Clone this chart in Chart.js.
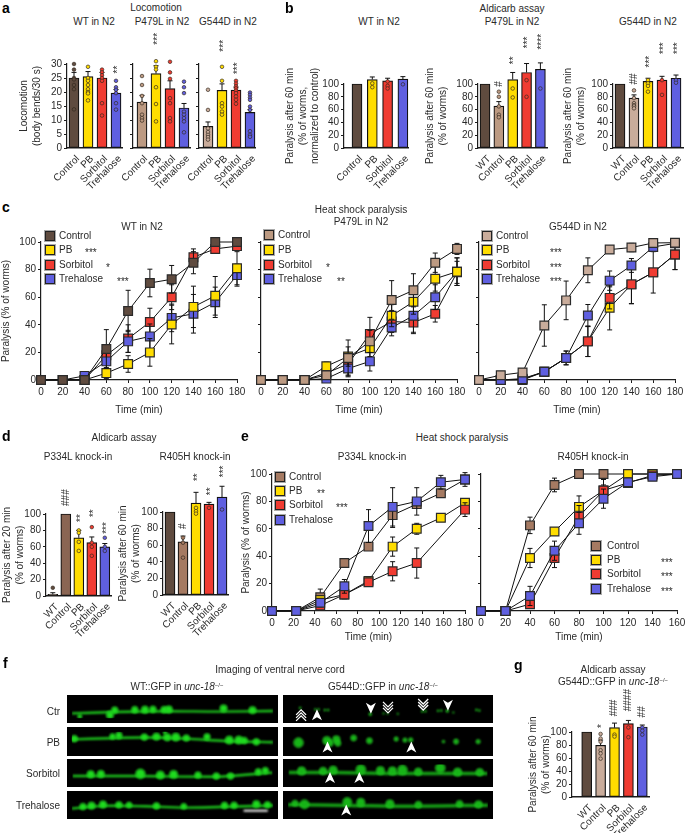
<!DOCTYPE html>
<html>
<head>
<meta charset="utf-8">
<style>
  html, body { margin: 0; padding: 0; background: #fff; }
  #page { position: relative; width: 685px; height: 833px; overflow: hidden; font-family: "Liberation Sans", sans-serif; color: #2a2a2a; }
  #page canvas { position: absolute; }
  .txt { position: absolute; white-space: nowrap; font-size: 10px; line-height: 12px; }
  .txt sup { font-size: 6px; line-height: 0; vertical-align: 3px; }
  .panel { font-weight: bold; font-size: 14px; color: #000; }
  .swatch { position: absolute; width: 8px; height: 8px; border: 1px solid #222; box-shadow: 0 0 0 1px #aaa; }
</style>
</head>
<body>
<div id="page"></div>
<script src="https://cdn.jsdelivr.net/npm/chart.js@4"></script>
<script>
// categories
const cats4 = ['Control', 'PB', 'Sorbitol', 'Trehalose'];
const cats5 = ['WT', 'Control', 'PB', 'Sorbitol', 'Trehalose'];
const legendNames = ['Control', 'PB', 'Sorbitol', 'Trehalose'];

// panel a, locomotion
const a1Means = [25, 25.5, 25, 19.6];
const a1Errs = [2, 1.8, 2, 1.3];
const a1Dots = [[30, 28, 25, 24.5, 22.5, 21, 13.8], [34, 33, 29, 25, 24, 22.5, 21, 20, 19.5, 17], [33, 28, 27, 26, 25, 24, 16, 11.6], [24, 21.7, 20.8, 19.6, 16, 13.7]];
const a1Notes = [[3, 28, '**']];
const a2Means = [16.4, 26.6, 21.2, 14.3];
const a2Errs = [2.4, 2.8, 2.8, 1.6];
const a2Dots = [[25.7, 22.5, 18.6, 16, 11.9, 10.7, 9.8], [37, 34, 32, 31, 29, 28, 21.7, 15.7, 9.5], [30.8, 27, 24.7, 17.8, 16, 10.7, 9.5], [23.7, 21.7, 19.6, 13, 11.9, 10.7, 9.5, 5.6]];
const a2Notes = [[1, 39, '***']];
const a3Means = [7.7, 20.6, 20.7, 12.7];
const a3Errs = [1.6, 2.3, 1, 1];
const a3Dots = [[20.8, 13.6, 7, 5.7, 4.7, 3.9, 3], [32, 29, 24, 16, 14.8, 13, 11.9], [24, 23, 22, 21.3, 20.5, 19.6, 18.4, 17.2, 15.8], [19.8, 19, 18, 17.2, 14.8, 13.6, 6, 4.7, 4]];
const a3Notes = [[1, 36.5, '***'], [2, 28.5, '***']];

// panel b, aldicarb assay
const b1Means = [100, 107, 105, 107.5];
const b1Errs = [0, 4, 4, 4];
const b1Dots = [[], [112, 101, 95], [109, 104, 97, 93], [110, 99.5]];
const b2Means = [100, 65.5, 107, 118, 123];
const b2Errs = [0, 7, 11, 14, 10];
const b2Dots = [[], [88, 80, 65, 52, 48], [118, 113, 93, 79], [143, 140, 129, 106, 80], [150, 132, 111, 93]];
const b2Notes = [[1, 100, '#'], [2, 137, '**'], [3, 165, '***'], [4, 166, '****']];
const b3Means = [100, 78, 104, 106, 109];
const b3Errs = [0, 5, 5, 6, 5];
const b3Dots = [[], [90, 78, 70, 67, 65, 62], [112, 106, 101, 97, 88], [129, 112, 106, 83], [132, 112, 106, 102]];
const b3Notes = [[1, 108, '##'], [2, 135, '***'], [3, 156, '***'], [4, 156, '***']];

// panel c, heat shock paralysis
const cTimes = [0, 20, 40, 60, 80, 100, 120, 140, 160, 180];
const c1Control = [0, 0, 0, 22.5, 50, 70.3, 73, 85, 100, 100];
const c1ControlErr = [0, 0, 0, 14, 15, 10, 10, 8, 0, 0];
const c1PB = [0, 0, 0, 5, 11.6, 20, 40.2, 53, 61, 81];
const c1PBErr = [0, 0, 0, 4, 6, 10, 14, 15, 14, 12];
const c1Sorbitol = [0, 0, 0, 18, 30, 42, 60, 89, 95, 97];
const c1SorbitolErr = [0, 0, 0, 5, 10, 10, 9, 6, 3, 3];
const c1Trehalose = [0, 0, 3, 13.5, 28, 31.6, 45, 48, 56.3, 76];
const c1TrehaloseErr = [0, 0, 0, 6, 8, 9, 10, 14, 11, 8];
const c2Control = [0, 0, 0, 3.5, 16, 28, 58, 65, 85, 95];
const c2ControlErr = [0, 0, 0, 2, 13, 8, 14, 12, 7, 4];
const c2PB = [0, 0, 0, 10, 17, 23, 46.6, 56.7, 73.4, 78.5];
const c2PBErr = [0, 0, 0, 3, 7, 6, 8, 9, 9, 10];
const c2Sorbitol = [0, 0, 0, 5, 11.6, 33.4, 42.4, 41.6, 48, 78];
const c2SorbitolErr = [0, 0, 0, 2, 8, 12, 8, 8, 6, 8];
const c2Trehalose = [0, 0, 0, 1, 8.3, 13.5, 38, 46.6, 60, 78.5];
const c2TrehaloseErr = [0, 0, 0, 1, 6, 7, 6, 12, 9, 10];
const c3Control = [0, 3.5, 5.5, 39.5, 57.7, 79.5, 94.5, 96, 99.3, 99.5];
const c3ControlErr = [0, 0, 0, 15, 14, 9, 2, 3, 2, 1];
const c3PB = [0, 0, 0, 6, 16, 28, 52.3, 69.3, 78, 91];
const c3PBErr = [0, 0, 0, 2, 5, 11, 16, 14, 15, 11];
const c3Sorbitol = [0, 0, 1, 6, 16, 28, 59.5, 69.3, 78, 91];
const c3SorbitolErr = [0, 0, 0, 2, 5, 11, 8, 14, 0, 11];
const c3Trehalose = [0, 0, 0.5, 6, 16, 46.7, 72, 83, 96.4, 99];
const c3TrehaloseErr = [0, 0, 0, 2, 3, 8, 7, 5, 2, 1];

// panel d, aldicarb assay knock-in
const d1Means = [2, 100, 71, 65, 60];
const d1Errs = [2, 0, 9, 7, 4];
const d1Dots = [[10], [], [80, 77, 66, 55], [84, 65, 60, 49], [71, 60, 55]];
const d1Notes = [[1, 120, '###'], [2, 95, '**'], [3, 101, '**'], [4, 83, '***']];
const d2Means = [100, 64, 110.7, 109.6, 118];
const d2Errs = [0, 7, 13, 2, 13];
const d2Dots = [[], [69, 63, 45], [131, 105, 101, 98], [113, 111, 107, 105], [139, 108, 103]];
const d2Notes = [[1, 83, '#'], [2, 142, '**'], [3, 125, '**'], [4, 149, '***']];

// panel e, heat shock paralysis knock-in
const e1Times = [0, 22.5, 45, 67.5, 90, 112.5, 135, 157.5, 180];
const e1Control = [0, 0, 10, 35, 47, 70, 78, 86, 96];
const e1ControlErr = [0, 0, 6, 2, 0, 9, 3, 2, 3];
const e1PB = [0, 0, 8, 12, 22, 47, 60, 68, 79];
const e1PBErr = [0, 0, 3, 3, 3, 7, 4, 2, 2];
const e1Sorbitol = [0, 0, 4, 12, 21, 29, 35, null, 74];
const e1SorbitolErr = [0, 0, 2, 3, 3, 7, 11, 0, 5];
const e1Trehalose = [0, 0, 6, 18, 62, 76, 80, 94, 96];
const e1TrehaloseErr = [0, 0, 3, 5, 12, 14, 10, 5, 5];
const e2Times = [0, 20, 40, 60, 80, 100, 120, 140, 160];
const e2Control = [0, 0, 62.5, 92, 100, 100, 100, 100, 100];
const e2ControlErr = [0, 0, 6, 5, 0, 0, 0, 0, 0];
const e2PB = [0, 0, 38.7, 58, 76, 88, 100, 100, 100];
const e2PBErr = [0, 0, 7, 1, 8, 4, 0, 0, 0];
const e2Sorbitol = [0, 0, 5, 38.7, 69, 88, 93.5, 99, 100];
const e2SorbitolErr = [0, 0, 3, 7, 8, 8, 3, 0, 0];
const e2Trehalose = [0, 0, 11, 44, 64, 82, 94, 98, 100];
const e2TrehaloseErr = [0, 0, 7, 7, 8, 7, 3, 0, 0];

// panel g
const gMeans = [100, 79.5, 106.7, 112.8, 107.7];
const gErrs = [0, 8, 7, 5, 3];
const gDots = [[], [97, 90, 85, 72, 67, 59], [124, 113, 108, 96, 93], [133, 113, 107, 92], [118, 112, 107, 102, 96]];
const gNotes = [[1, 109, '*'], [2, 137, '###'], [3, 149, '####'], [4, 131, '##']];

// panel f, micrographs: strand points and boutons [x, y, r] in image units
const wtStrands = [
  [[200, 348], [330, 342], [500, 338], [660, 340], [833, 337]],
  [[200, 415], [320, 410], [430, 407], [560, 412], [680, 422], [833, 428]],
  [[200, 535], [400, 535], [660, 538], [720, 532], [833, 518]],
  [[200, 632], [300, 620], [430, 622], [560, 628], [833, 618]]
];
const wtBlobs = [
  [[335, 333, 8], [398, 331, 8], [430, 331, 9], [455, 329, 8], [490, 331, 8], [505, 330, 9], [677, 325, 9], [768, 333, 9], [320, 355, 9], [225, 362, 5]],
  [[208, 412, 8], [328, 402, 7], [348, 398, 8], [428, 405, 8], [466, 403, 9], [500, 406, 9], [527, 405, 10], [560, 409, 8], [625, 404, 8], [695, 418, 10], [725, 418, 10], [742, 420, 8], [780, 426, 8], [493, 385, 4]],
  [[258, 526, 9], [290, 525, 9], [415, 524, 12], [478, 530, 10], [520, 527, 10], [597, 530, 8], [655, 535, 8], [700, 535, 8], [788, 514, 8], [810, 508, 8]],
  [[235, 623, 8], [262, 619, 9], [298, 614, 9], [348, 615, 8], [380, 616, 7], [466, 620, 8], [552, 622, 7], [680, 618, 8], [710, 617, 8], [780, 612, 9], [815, 615, 8]]
];
const mutStrands = [
  [],
  [],
  [[8, 517], [150, 518], [330, 522], [500, 522], [640, 522]],
  [[8, 615], [200, 618], [400, 622], [640, 617]]
];
const mutBlobs = [
  [[47, 323, 2], [95, 330, 2], [105, 330, 2], [125, 333, 2], [135, 333, 2], [268, 352, 3], [310, 348, 1.5], [323, 349, 1.5], [355, 350, 1.5], [432, 339, 2], [442, 338, 2], [482, 336, 2], [492, 335, 2], [511, 337, 3], [530, 344, 1.5], [603, 332, 2], [612, 335, 2]],
  [[40, 430, 12], [130, 420, 10], [160, 415, 9], [165, 433, 7], [140, 432, 8], [215, 408, 7], [265, 421, 7], [350, 413, 5], [378, 418, 5], [396, 417, 5], [500, 425, 3], [540, 425, 6], [610, 425, 5]],
  [[50, 510, 10], [118, 510, 9], [150, 506, 10], [238, 503, 12], [300, 508, 10], [338, 510, 10], [370, 505, 12], [420, 514, 9], [490, 495, 12], [545, 516, 10], [615, 516, 9]],
  [[30, 607, 7], [60, 612, 11], [195, 602, 11], [238, 604, 10], [330, 611, 10], [420, 614, 8], [550, 610, 8], [610, 613, 9]]
];
// arrow marks [x, y, 'up'|'down', 1|2 heads]
const mutArrows = [
  [[50, 355, 'up', 2], [100, 357, 'up', 1], [270, 322, 'down', 1], [324, 323, 'down', 2], [435, 310, 'down', 2], [513, 309, 'down', 1]],
  [[132, 452, 'up', 1], [398, 452, 'up', 1]],
  [[140, 544, 'up', 1], [233, 544, 'up', 1]],
  [[192, 642, 'up', 1]]
];
const rowNames = ['Ctr', 'PB', 'Sorbitol', 'Trehalose'];

const BROWN = '#5f4b3f', TAN = '#bc9a82', PALE = '#c9ac9b', MID = '#a57a62';
const YELLOW = '#ffdd00', RED = '#f03c32', BLUE = '#5f5fe0';
const INK = '#1c1c1c';
const page = document.getElementById('page');

Chart.defaults.font.family = '"Liberation Sans", sans-serif';
Chart.defaults.font.size = 10;
Chart.defaults.color = '#2a2a2a';
Chart.defaults.animation = false;

// error bars, drawn next to their own dataset so the layering stays right
function drawErrors(chart, index) {
  const ds = chart.data.datasets[index];
  if (!ds.errors) return;
  const xs = chart.scales.x, ys = chart.scales.y, ctx = chart.ctx;
  ctx.save();
  ctx.strokeStyle = '#111';
  ctx.lineWidth = 1;
  ds.data.forEach((pt, i) => {
    const e = ds.errors[i];
    if (!e || pt.y == null) return;
    const x = xs.getPixelForValue(pt.x);
    const top = ys.getPixelForValue(pt.y + e);
    const bot = ds.upperOnly ? ys.getPixelForValue(pt.y) : ys.getPixelForValue(pt.y - e);
    ctx.beginPath();
    ctx.moveTo(x, top); ctx.lineTo(x, bot);
    ctx.moveTo(x - 2.5, top); ctx.lineTo(x + 2.5, top);
    if (!ds.upperOnly) { ctx.moveTo(x - 2.5, bot); ctx.lineTo(x + 2.5, bot); }
    ctx.stroke();
  });
  ctx.restore();
}

Chart.register({
  id: 'errorBars',
  beforeDatasetDraw(chart, args) {
    if (!chart.data.datasets[args.index].upperOnly) drawErrors(chart, args.index);
  },
  afterDatasetDraw(chart, args) {
    if (chart.data.datasets[args.index].upperOnly) drawErrors(chart, args.index);
  }
});

// the stacked stars and hashes above the bars
Chart.register({
  id: 'sigNotes',
  afterDatasetsDraw(chart) {
    const ds = chart.data.datasets[0];
    if (!ds.notes) return;
    const ctx = chart.ctx;
    ds.notes.forEach(n => {
      ctx.save();
      ctx.translate(chart.scales.x.getPixelForValue(n[0]), chart.scales.y.getPixelForValue(n[1]));
      ctx.rotate(-Math.PI / 2);
      ctx.font = '10px "Liberation Sans"';
      ctx.fillStyle = '#2a2a2a';
      ctx.textAlign = 'center';
      ctx.textBaseline = 'middle';
      ctx.fillText(n[2], 0, n[2][0] === '*' ? 2 : 0);
      ctx.restore();
    });
  }
});

// soft edges for the micrographs, white arrows stay sharp
Chart.register({
  id: 'microscope',
  beforeDatasetsDraw(chart) {
    if (chart.config.options.isImage) { chart.ctx.save(); chart.ctx.filter = 'blur(0.8px)'; }
  },
  afterDatasetsDraw(chart) {
    if (!chart.config.options.isImage) return;
    chart.ctx.restore();
    const ctx = chart.ctx, arrows = chart.config.options.arrows || [];
    arrows.forEach(a => {
      const x = chart.scales.x.getPixelForValue(a[0]);
      const y = chart.scales.y.getPixelForValue(a[1]);
      const d = a[2] === 'up' ? 1 : -1;
      ctx.save();
      ctx.fillStyle = '#fff';
      ctx.strokeStyle = '#fff';
      if (a[3] === 1) {
        ctx.beginPath();
        ctx.moveTo(x, y - 6 * d);
        ctx.lineTo(x + 5, y + 5 * d);
        ctx.lineTo(x, y + 2 * d);
        ctx.lineTo(x - 5, y + 5 * d);
        ctx.closePath();
        ctx.fill();
      } else {
        ctx.lineWidth = 1.3;
        [-3, 0, 3].forEach(o => {
          ctx.beginPath();
          ctx.moveTo(x - 5, y + (o + 3) * d);
          ctx.lineTo(x, y + (o - 2) * d);
          ctx.lineTo(x + 5, y + (o + 3) * d);
          ctx.stroke();
        });
      }
      ctx.restore();
    });
  }
});

function addCanvas(left, top, width, height) {
  const c = document.createElement('canvas');
  c.width = width;
  c.height = height;
  c.style.left = left + 'px';
  c.style.top = top + 'px';
  page.appendChild(c);
  return c;
}

function addText(html, x, y, anchor, cls) {
  const d = document.createElement('div');
  d.className = 'txt' + (cls ? ' ' + cls : '');
  d.innerHTML = html;
  d.style.left = x + 'px';
  d.style.top = y + 'px';
  const tx = anchor === 'c' ? '-50%' : anchor === 'r' ? '-100%' : '0';
  d.style.transform = 'translate(' + tx + ',-50%)';
  page.appendChild(d);
}

function yAxis(o) {
  return {
    type: 'linear', min: 0, max: o.yMax,
    ticks: { stepSize: o.yStep, autoSkip: false, display: o.yLabels !== false, padding: 2, color: '#2a2a2a', font: { size: 10 } },
    grid: { drawOnChartArea: false, drawTicks: true, tickLength: 3, tickColor: INK },
    border: { color: INK, width: 1.2 },
    title: o.yTitle ? { display: true, text: o.yTitle, padding: 0, font: { size: 10, lineHeight: 1.25 }, color: '#2a2a2a' } : { display: false },
    afterFit: s => { s.width = o.leftW; }
  };
}

function barPanel(o) {
  const p = o.plot, padTop = 60, padRight = 12, bottomH = 50;
  const canvas = addCanvas(p.l - o.leftW, p.t - padTop, o.leftW + p.r - p.l + padRight, padTop + p.b - p.t + bottomH);
  const dots = [];
  o.dots.forEach((vals, i) => vals.forEach(v => dots.push({ x: i, y: v })));
  new Chart(canvas, {
    type: 'bar',
    data: {
      datasets: [{
        data: o.means.map((v, i) => ({ x: i, y: v })),
        errors: o.errs, upperOnly: true,
        notes: o.notes,
        backgroundColor: o.colors, borderColor: '#111', borderWidth: 1.2, borderSkipped: false,
        barThickness: o.barW || 10, clip: false, order: 2
      }, {
        type: 'line', data: dots, showLine: false, clip: false, order: 1,
        pointRadius: 1.8, pointBorderWidth: 0.8, pointBorderColor: 'rgba(50,40,30,0.85)',
        pointBackgroundColor: c => o.colors[c.raw ? c.raw.x : 0]
      }]
    },
    options: {
      responsive: false,
      layout: { padding: { top: padTop, right: padRight, left: 0, bottom: 0 } },
      plugins: { legend: { display: false }, tooltip: { enabled: false } },
      scales: {
        x: {
          type: 'linear', offset: false,
          min: (p.l - o.c0) / o.step, max: (p.r - o.c0) / o.step,
          afterBuildTicks: s => { s.ticks = o.cats.map((c, i) => ({ value: i })); },
          ticks: { autoSkip: false, minRotation: 45, maxRotation: 45, padding: 5, labelOffset: 4, color: '#2a2a2a', font: { size: 10 }, callback: v => o.cats[v] },
          grid: { display: true, offset: false, drawOnChartArea: false, drawTicks: false },
          border: { color: INK, width: 1.5 },
          afterFit: s => { s.height = bottomH; }
        },
        y: yAxis(o)
      }
    }
  });
}

function linePanel(o) {
  const p = o.plot, padTop = 12, padRight = 14, bottomH = o.bottomH;
  const canvas = addCanvas(p.l - o.leftW, p.t - padTop, o.leftW + p.r - p.l + padRight, padTop + p.b - p.t + bottomH);
  new Chart(canvas, {
    type: 'line',
    data: {
      datasets: o.series.map(s => ({
        data: o.times.map((t, i) => ({ x: t, y: s.y[i] })),
        errors: s.err,
        spanGaps: true, clip: false, order: s.order,
        borderColor: '#111', borderWidth: 1, tension: 0,
        pointStyle: 'rect', pointRadius: 6.2, pointBorderWidth: 1.2,
        pointBorderColor: '#2a2a2a', pointBackgroundColor: s.color
      }))
    },
    options: {
      responsive: false,
      layout: { padding: { top: padTop, right: padRight, left: 0, bottom: 0 } },
      plugins: { legend: { display: false }, tooltip: { enabled: false } },
      scales: {
        x: {
          type: 'linear', min: 0, max: o.xMax,
          ticks: { stepSize: 20, autoSkip: false, maxRotation: 0, padding: 3, color: '#2a2a2a', font: { size: 10 } },
          grid: { drawOnChartArea: false, drawTicks: true, tickLength: 3, tickColor: INK },
          border: { color: INK, width: 1.2 },
          title: { display: true, text: 'Time (min)', padding: 0, font: { size: 10 }, color: '#2a2a2a' },
          afterFit: s => { s.height = bottomH; }
        },
        y: yAxis(Object.assign({ yMax: 100, yStep: 20 }, o))
      }
    }
  });
}

function legend(x, tx, ys, colors, stars, starX) {
  legendNames.forEach((name, i) => {
    const sw = document.createElement('div');
    sw.className = 'swatch';
    sw.style.left = (x - 5) + 'px';
    sw.style.top = (ys[i] - 5) + 'px';
    sw.style.background = colors[i];
    page.appendChild(sw);
    addText(name, tx, ys[i], 'l');
    if (stars[i]) addText(stars[i], starX[i], ys[i] + 2.5, 'l');
  });
}

function imagePanel(rect, xRange, yRange, strand, blobs, arrows, bright, extra) {
  const canvas = addCanvas(rect.l, rect.t, rect.r - rect.l, rect.b - rect.t);
  canvas.style.background = '#000';
  const datasets = [{
    type: 'bubble',
    data: blobs.map(b => ({ x: b[0], y: b[1], r: b[2] / 2.6 })),
    backgroundColor: bright ? '#1fdc1f' : '#17b417', borderColor: bright ? '#25e025' : '#2be62b', borderWidth: 0.8, clip: true
  }];
  if (strand.length) {
    datasets.push({
      type: 'line', data: strand.map(s => ({ x: s[0], y: s[1] })),
      borderColor: bright ? '#1cc81c' : '#159f15', borderWidth: bright ? 2.4 : 3.5, pointRadius: 0, tension: 0.3
    });
  }
  if (extra) datasets.push(extra);
  new Chart(canvas, {
    data: { datasets },
    options: {
      responsive: false, isImage: true, arrows,
      layout: { padding: 0 },
      plugins: { legend: { display: false }, tooltip: { enabled: false } },
      scales: {
        x: { type: 'linear', display: false, min: xRange[0], max: xRange[1] },
        y: { type: 'linear', display: false, min: yRange[0], max: yRange[1], reverse: true }
      }
    }
  });
}

// --- panel a
const aColors1 = [BROWN, YELLOW, RED, BLUE], aColors2 = [TAN, YELLOW, RED, BLUE], aColors3 = [PALE, YELLOW, RED, BLUE];
addText('a', 2, 8, 'l', 'panel');
addText('Locomotion', 156, 8, 'c');
addText('WT in N2', 94, 22, 'c');
addText('P479L in N2', 162, 22, 'c');
addText('G544D in N2', 228, 22, 'c');
barPanel({ cats: cats4, means: a1Means, errs: a1Errs, dots: a1Dots, notes: a1Notes, colors: aColors1, plot: { l: 67, r: 122, t: 64, b: 148 }, c0: 74, step: 14, yMax: 30, yStep: 5, leftW: 49, yTitle: ['Locomotion', '(body bends/30 s)'] });
barPanel({ cats: cats4, means: a2Means, errs: a2Errs, dots: a2Dots, notes: a2Notes, colors: aColors2, plot: { l: 133, r: 190, t: 64, b: 148 }, c0: 142, step: 14, yMax: 30, yStep: 5, leftW: 30, yLabels: false });
barPanel({ cats: cats4, means: a3Means, errs: a3Errs, dots: a3Dots, notes: a3Notes, colors: aColors3, plot: { l: 199, r: 255, t: 64, b: 148 }, c0: 208, step: 14, yMax: 30, yStep: 5, leftW: 30, yLabels: false });

// --- panel b
addText('b', 285, 8, 'l', 'panel');
addText('Aldicarb assay', 512, 9, 'c');
addText('WT in N2', 379, 22, 'c');
addText('P479L in N2', 512, 22, 'c');
addText('G544D in N2', 648, 22, 'c');
barPanel({ cats: cats4, means: b1Means, errs: b1Errs, dots: b1Dots, colors: aColors1, plot: { l: 344, r: 408, t: 84, b: 148 }, c0: 357, step: 15.3, yMax: 100, yStep: 20, leftW: 60, yTitle: ['Paralysis after 60 min', '(% of worms,', 'normalized to control)'] });
barPanel({ cats: cats5, means: b2Means, errs: b2Errs, dots: b2Dots, notes: b2Notes, colors: [BROWN, TAN, YELLOW, RED, BLUE], plot: { l: 478, r: 547, t: 84, b: 148 }, c0: 485, step: 13.85, yMax: 100, yStep: 20, leftW: 54, yTitle: ['Paralysis after 60 min', '(% of worms)'] });
barPanel({ cats: cats5, means: b3Means, errs: b3Errs, dots: b3Dots, notes: b3Notes, colors: [BROWN, PALE, YELLOW, RED, BLUE], plot: { l: 613, r: 683, t: 84, b: 148 }, c0: 620, step: 14, yMax: 100, yStep: 20, leftW: 51, yTitle: ['Paralysis after 60 min', '(% of worms)'] });

// --- panel c
addText('c', 2, 207, 'l', 'panel');
addText('WT in N2', 142, 227, 'c');
addText('Heat shock paralysis', 361, 210, 'c');
addText('P479L in N2', 361, 222, 'c');
addText('G544D in N2', 578, 227, 'c');
linePanel({
  times: cTimes, xMax: 180, plot: { l: 41, r: 237, t: 242, b: 380 }, leftW: 41, bottomH: 36, yTitle: 'Paralysis (% of worms)',
  series: [
    { y: c1Control, err: c1ControlErr, color: BROWN, order: 1 },
    { y: c1PB, err: c1PBErr, color: YELLOW, order: 2 },
    { y: c1Sorbitol, err: c1SorbitolErr, color: RED, order: 4 },
    { y: c1Trehalose, err: c1TrehaloseErr, color: BLUE, order: 3 }
  ]
});
linePanel({
  times: cTimes, xMax: 180, plot: { l: 261, r: 457, t: 242, b: 380 }, leftW: 14, bottomH: 36, yLabels: false,
  series: [
    { y: c2Control, err: c2ControlErr, color: TAN, order: 1 },
    { y: c2PB, err: c2PBErr, color: YELLOW, order: 2 },
    { y: c2Sorbitol, err: c2SorbitolErr, color: RED, order: 4 },
    { y: c2Trehalose, err: c2TrehaloseErr, color: BLUE, order: 3 }
  ]
});
linePanel({
  times: cTimes, xMax: 180, plot: { l: 479, r: 675, t: 242, b: 380 }, leftW: 14, bottomH: 36, yLabels: false,
  series: [
    { y: c3Control, err: c3ControlErr, color: PALE, order: 1 },
    { y: c3PB, err: c3PBErr, color: YELLOW, order: 4 },
    { y: c3Sorbitol, err: c3SorbitolErr, color: RED, order: 3 },
    { y: c3Trehalose, err: c3TrehaloseErr, color: BLUE, order: 2 }
  ]
});
legend(50, 59, [236, 250, 265, 279], [BROWN, YELLOW, RED, BLUE], ['', '***', '*', '***'], [0, 85, 106, 117]);
legend(269, 278, [235, 250, 265, 279], [TAN, YELLOW, RED, BLUE], ['', '', '*', '**'], [0, 0, 326, 337]);
legend(487, 496, [236, 250, 265, 279], [PALE, YELLOW, RED, BLUE], ['', '***', '***', '***'], [0, 550, 550, 550]);

// --- panel d
addText('d', 2, 436, 'l', 'panel');
addText('Aldicarb assay', 124, 438, 'c');
addText('P334L knock-in', 78, 457, 'c');
addText('R405H knock-in', 195, 457, 'c');
barPanel({ cats: cats5, means: d1Means, errs: d1Errs, dots: d1Dots, notes: d1Notes, colors: [BROWN, '#8a6553', YELLOW, RED, BLUE], plot: { l: 46, r: 111, t: 514, b: 596 }, c0: 52.8, step: 13, yMax: 100, yStep: 20, leftW: 45, yTitle: ['Paralysis after 20 min', '(% of worms)'] });
barPanel({ cats: cats5, means: d2Means, errs: d2Errs, dots: d2Dots, notes: d2Notes, colors: [BROWN, MID, YELLOW, RED, BLUE], plot: { l: 163, r: 228, t: 512, b: 595.5 }, c0: 170, step: 13, yMax: 100, yStep: 20, leftW: 46, yTitle: ['Paralysis after 60 min', '(% of worms)'] });

// --- panel e
addText('e', 241, 436, 'l', 'panel');
addText('Heat shock paralysis', 462, 438, 'c');
addText('P334L knock-in', 372, 457, 'c');
addText('R405H knock-in', 593, 457, 'c');
linePanel({
  times: e1Times, xMax: 180, plot: { l: 271.5, r: 465, t: 473.7, b: 610.7 }, leftW: 32, bottomH: 32, yTitle: 'Paralysis (% of worms)',
  series: [
    { y: e1Control, err: e1ControlErr, color: MID, order: 4 },
    { y: e1PB, err: e1PBErr, color: YELLOW, order: 3 },
    { y: e1Sorbitol, err: e1SorbitolErr, color: RED, order: 2 },
    { y: e1Trehalose, err: e1TrehaloseErr, color: BLUE, order: 1 }
  ]
});
linePanel({
  times: e2Times, xMax: 160, plot: { l: 481, r: 677, t: 473.7, b: 610.7 }, leftW: 14, bottomH: 32, yLabels: false,
  series: [
    { y: e2Control, err: e2ControlErr, color: MID, order: 4 },
    { y: e2PB, err: e2PBErr, color: YELLOW, order: 3 },
    { y: e2Sorbitol, err: e2SorbitolErr, color: RED, order: 2 },
    { y: e2Trehalose, err: e2TrehaloseErr, color: BLUE, order: 1 }
  ]
});
legend(280, 289, [477, 491, 505, 520], [MID, YELLOW, RED, BLUE], ['', '**', '***', ''], [0, 317, 336, 0]);
legend(596, 607, [546, 560, 574, 589], [MID, YELLOW, RED, BLUE], ['', '***', '***', '***'], [0, 661, 661, 661]);

// --- panel f
addText('f', 3, 663, 'l', 'panel');
addText('Imaging of ventral nerve cord', 280, 670, 'c');
addText('WT::GFP in <i>unc-18</i><sup>−/−</sup>', 177, 687, 'c');
addText('G544D::GFP in <i>unc-18</i><sup>−/−</sup>', 383, 687, 'c');
const rowRects = [[695, 723], [727, 756], [759, 787], [791, 819]];
const rowRanges = [[286, 370], [382, 467], [478, 562], [574, 658]];
const rowLabelY = [712, 743, 774, 806];
rowNames.forEach((name, i) => {
  addText(name, 60, rowLabelY[i], 'r');
  const scaleBar = i === 3 ? {
    type: 'line', data: [{ x: 740, y: 642 }, { x: 816, y: 642 }],
    borderColor: '#fff', borderWidth: 2, pointRadius: 0
  } : null;
  imagePanel({ l: 67, r: 278, t: rowRects[i][0], b: rowRects[i][1] }, [200, 833], rowRanges[i], wtStrands[i], wtBlobs[i], [], true, scaleBar);
  imagePanel({ l: 283, r: 493, t: rowRects[i][0], b: rowRects[i][1] }, [8, 640], rowRanges[i], mutStrands[i], mutBlobs[i], mutArrows[i], false, null);
});

// --- panel g
addText('g', 514, 665, 'l', 'panel');
addText('Aldicarb assay', 613, 670, 'c');
addText('G544D::GFP in <i>unc-18</i><sup>−/−</sup>', 613, 682, 'c');
barPanel({ cats: cats5, means: gMeans, errs: gErrs, dots: gDots, notes: gNotes, colors: [BROWN, PALE, YELLOW, RED, BLUE], plot: { l: 572, r: 649, t: 732, b: 797 }, c0: 586.7, step: 13.9, yMax: 100, yStep: 20, leftW: 45, yTitle: ['Paralysis after 60 min', '(% of worms)'] });
</script>
</body>
</html>
